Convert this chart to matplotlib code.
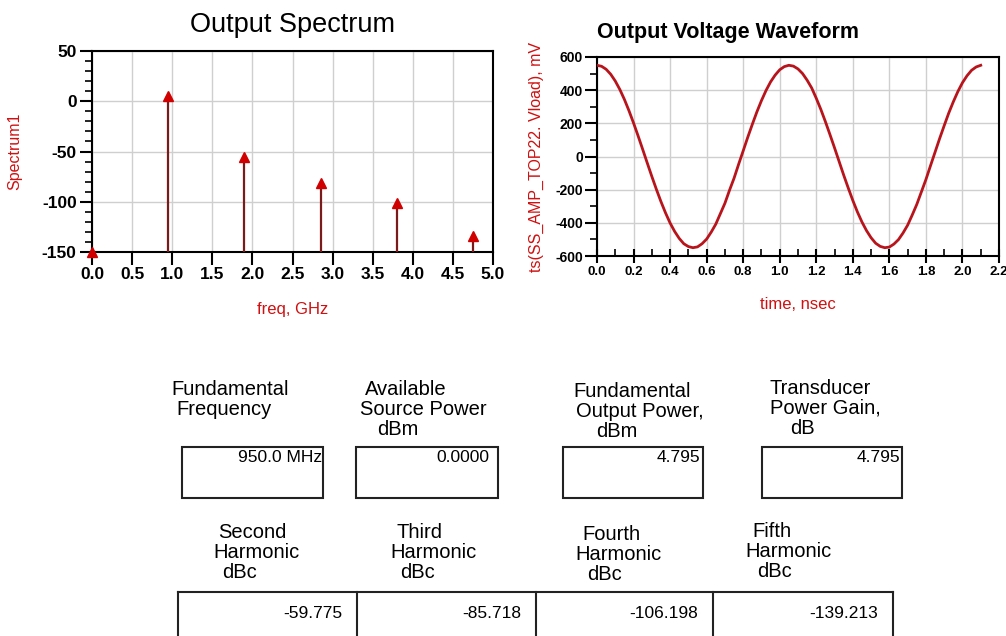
import matplotlib
matplotlib.use("Agg")
import matplotlib.pyplot as plt
from matplotlib.patches import Rectangle
from matplotlib.ticker import MultipleLocator

plt.rcParams['font.family'] = ['Liberation Sans', 'DejaVu Sans']
plt.rcParams['axes.unicode_minus'] = False

# ---------------- data ----------------
spec_freq = [0.0, 0.95, 1.90, 2.85, 3.80, 4.75]          # GHz
spec_dbm = [-150.0, 4.795, -54.98, -80.92, -101.40, -134.42]
freq_ticks = [0.0, 0.5, 1.0, 1.5, 2.0, 2.5, 3.0, 3.5, 4.0, 4.5, 5.0]
spec_yticks = [50, 0, -50, -100, -150]

wave_t = [0.000, 0.025, 0.050, 0.075, 0.100, 0.125, 0.150, 0.175, 0.200, 0.225,
          0.250, 0.275, 0.300, 0.325, 0.350, 0.375, 0.400, 0.425, 0.450, 0.475,
          0.500, 0.525, 0.550, 0.575, 0.600, 0.625, 0.650, 0.675, 0.700, 0.725,
          0.750, 0.775, 0.800, 0.825, 0.850, 0.875, 0.900, 0.925, 0.950, 0.975,
          1.000, 1.025, 1.050, 1.075, 1.100, 1.125, 1.150, 1.175, 1.200, 1.225,
          1.250, 1.275, 1.300, 1.325, 1.350, 1.375, 1.400, 1.425, 1.450, 1.475,
          1.500, 1.525, 1.550, 1.575, 1.600, 1.625, 1.650, 1.675, 1.700, 1.725,
          1.750, 1.775, 1.800, 1.825, 1.850, 1.875, 1.900, 1.925, 1.950, 1.975,
          2.000, 2.025, 2.050, 2.075, 2.100]
wave_mv = [550, 544, 526, 496, 455, 404, 344, 276, 202, 124,
           43, -39, -120, -198, -272, -340, -401, -452, -494, -526,
           -543, -550, -545, -526, -498, -456, -408, -345, -282, -204,
           -131, -47, 34, 116, 194, 269, 337, 398, 450, 491,
           523, 542, 550, 545, 528, 500, 460, 413, 351, 284,
           210, 132, 52, -30, -112, -190, -265, -334, -395, -447,
           -490, -523, -542, -550, -546, -528, -501, -461, -414, -353,
           -289, -214, -139, -56, 26, 108, 186, 262, 330, 392,
           445, 487, 520, 540, 550]
time_ticks = [0.0, 0.2, 0.4, 0.6, 0.8, 1.0, 1.2, 1.4, 1.6, 1.8, 2.0, 2.2]
wave_yticks = [600, 400, 200, 0, -200, -400, -600]

row1_labels = [["Fundamental", "Frequency"],
               ["Available", "Source Power", "dBm"],
               ["Fundamental", "Output Power,", "dBm"],
               ["Transducer", "Power Gain,", "dB"]]
row1_values = ["950.0 MHz", "0.0000", "4.795", "4.795"]
row2_labels = [["Second", "Harmonic", "dBc"],
               ["Third", "Harmonic", "dBc"],
               ["Fourth", "Harmonic", "dBc"],
               ["Fifth", "Harmonic", "dBc"]]
row2_values = ["-59.775", "-85.718", "-106.198", "-139.213"]

# ---------------- figure ----------------
W, H = 1006, 636
fig = plt.figure(figsize=(W / 100, H / 100), dpi=100)
fig.patch.set_facecolor('white')

def ax_rect(x0, x1, ytop, ybot):
    return [x0 / W, 1 - ybot / H, (x1 - x0) / W, (ybot - ytop) / H]

RED = '#d01010'
GRID = '#cfcfcf'

# ---- Output Spectrum ----
ax1 = fig.add_axes(ax_rect(92, 493, 51, 252))
ax1.set_xlim(0, 5)
ax1.set_ylim(-150, 50)
ax1.set_xticks(freq_ticks)
ax1.set_xticklabels([f"{v:.1f}" for v in freq_ticks])
ax1.set_yticks(spec_yticks)
ax1.yaxis.set_minor_locator(MultipleLocator(10))
ax1.grid(True, which='major', color=GRID, lw=1.0)
ax1.set_axisbelow(True)
for s in ax1.spines.values():
    s.set_linewidth(1.5)
ax1.tick_params(axis='both', which='major', length=9, width=1.5, direction='out',
                labelsize=12.5, pad=2)
ax1.tick_params(axis='y', which='minor', length=5, width=1.2, direction='out')
for lab in ax1.get_xticklabels() + ax1.get_yticklabels():
    lab.set_fontweight('bold')
ax1.vlines(spec_freq, -150, spec_dbm, colors='#7a1a1a', lw=1.6, zorder=3)
ax1.plot(spec_freq, spec_dbm, linestyle='none', marker='^', ms=7,
         color='#d00000', zorder=4, clip_on=False)
ax1.set_xlabel("freq, GHz", color=RED, fontsize=12, labelpad=14)
ax1.set_ylabel("Spectrum1", color=RED, fontsize=11.5, labelpad=14)
ax1.set_title("Output Spectrum", fontsize=19.5, pad=14)

# ---- Output Voltage Waveform ----
ax2 = fig.add_axes(ax_rect(597, 999, 57, 256))
ax2.set_xlim(0, 2.2)
ax2.set_ylim(-600, 600)
ax2.set_xticks(time_ticks)
ax2.set_xticklabels([f"{v:.1f}" for v in time_ticks])
ax2.set_yticks(wave_yticks)
ax2.xaxis.set_minor_locator(MultipleLocator(0.1))
ax2.yaxis.set_minor_locator(MultipleLocator(100))
ax2.grid(True, which='major', color=GRID, lw=1.0)
ax2.set_axisbelow(True)
for s in ax2.spines.values():
    s.set_linewidth(1.5)
ax2.tick_params(axis='x', which='major', length=10, width=1.5, direction='inout',
                labelsize=9.5, pad=2)
ax2.tick_params(axis='x', which='minor', length=5, width=1.2, direction='in')
ax2.tick_params(axis='y', which='major', length=9, width=1.5, direction='out',
                labelsize=10, pad=1)
ax2.tick_params(axis='y', which='minor', length=5, width=1.2, direction='out')
for lab in ax2.get_xticklabels() + ax2.get_yticklabels():
    lab.set_fontweight('bold')
ax2.plot(wave_t, wave_mv, color='#b8141c', lw=2.0, zorder=3,
         solid_joinstyle='round')
ax2.set_xlabel("time, nsec", color=RED, fontsize=12, labelpad=14)
ax2.set_ylabel("ts(SS_AMP_TOP22. Vload), mV", color=RED, fontsize=11.5, labelpad=8)
ax2.set_title("Output Voltage Waveform", fontsize=15.5, fontweight='bold',
              loc='left', pad=14)

# ---- bottom overlay in pixel coordinates ----
ov = fig.add_axes([0, 0, 1, 1])
ov.set_xlim(0, W)
ov.set_ylim(H, 0)
ov.axis('off')

LABEL_FS = 14.5
VAL_FS = 12.5

row1_line_x = [[171, 176], [365, 360, 377], [573, 576, 596], [770, 770, 790]]
row1_base = [395, 395, 397, 394]
for lines, xs, yb in zip(row1_labels, row1_line_x, row1_base):
    for i, (txt, x) in enumerate(zip(lines, xs)):
        ov.text(x, yb + 20 * i, txt, fontsize=LABEL_FS, va='baseline', ha='left')

row1_boxes = [(182, 323), (356, 498), (563, 703), (762, 902)]
row1_val_right = [322, 489, 700, 900]
for (x0, x1), v, xr in zip(row1_boxes, row1_values, row1_val_right):
    ov.add_patch(Rectangle((x0, 447), x1 - x0, 51, fill=False, lw=1.5,
                           edgecolor='#222222'))
    ov.text(xr, 462, v, fontsize=VAL_FS, ha='right', va='baseline')

row2_line_x = [[218, 213, 222], [397, 390, 400], [582, 575, 587], [752, 745, 757]]
row2_base = [538, 538, 540, 537]
for lines, xs, yb in zip(row2_labels, row2_line_x, row2_base):
    for i, (txt, x) in enumerate(zip(lines, xs)):
        ov.text(x, yb + 20 * i, txt, fontsize=LABEL_FS, va='baseline', ha='left')

row2_edges = [178, 357, 536, 713, 893]
ov.plot([row2_edges[0], row2_edges[-1]], [592, 592], color='#222222', lw=1.5)
for xe in row2_edges:
    ov.plot([xe, xe], [592, H + 5], color='#222222', lw=1.5, clip_on=False)
row2_val_right = [342, 521, 698, 878]
for v, xr in zip(row2_values, row2_val_right):
    ov.text(xr, 618, v, fontsize=VAL_FS, ha='right', va='baseline')

fig.savefig("out.png", dpi=100)
